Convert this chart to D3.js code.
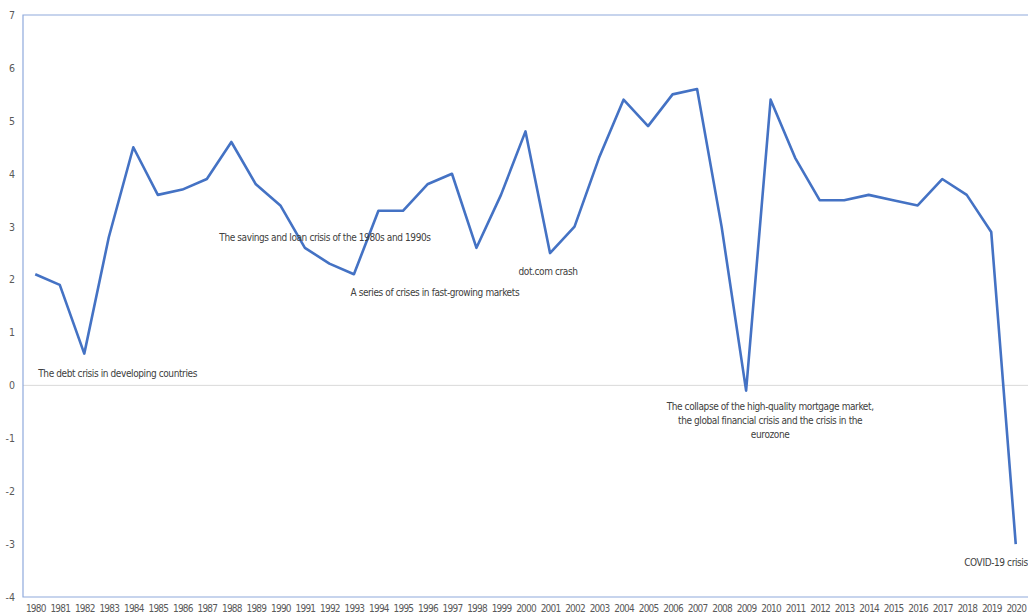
<!DOCTYPE html>
<html>
<head>
<meta charset="utf-8">
<script src="https://cdn.jsdelivr.net/npm/d3@7"></script>
<style>
  body { margin: 0; background: #fff; }
  text { font-family: "DejaVu Sans Condensed", "Liberation Sans", sans-serif; }
</style>
</head>
<body>
<script>
// years on the category axis
const years = d3.range(1980, 2021).map(String);

// growth values
const growth = [2.1, 1.9, 0.6, 2.8, 4.5, 3.6, 3.7, 3.9, 4.6, 3.8,
                3.4, 2.6, 2.3, 2.1, 3.3, 3.3, 3.8, 4.0, 2.6, 3.6,
                4.8, 2.5, 3.0, 4.3, 5.4, 4.9, 5.5, 5.6, 3.0, -0.1,
                5.4, 4.3, 3.5, 3.5, 3.6, 3.5, 3.4, 3.9, 3.6, 2.9,
                -3.0];

const yTicks = [-4, -3, -2, -1, 0, 1, 2, 3, 4, 5, 6, 7];

// crisis notes: year they sit near, value level, text lines
const notes = [
    { year: "1980", value: 0.16, anchor: "start", dx: 3, lines: ["The debt crisis in developing countries"] },
    { year: "1988", value: 2.72, anchor: "start", dx: -12, lines: ["The savings and loan crisis of the 1980s and 1990s"] },
    { year: "1994", value: 1.69, anchor: "start", dx: -28, lines: ["A series of crises in fast-growing markets"] },
    { year: "2001", value: 2.09, anchor: "middle", dx: -2, lines: ["dot.com crash"] },
    { year: "2009", value: -0.47, anchor: "middle", dx: 24, lines: ["The collapse of the high-quality mortgage market,", "the global financial crisis and the crisis in the", "eurozone"] },
    { year: "2020", value: -3.41, anchor: "end", dx: 12, lines: ["COVID-19 crisis"] }
];

const width = 1028, height = 613;
const plot = { left: 23, right: 1028, top: 15, bottom: 597 };

const svg = d3.select("body").append("svg")
    .attr("width", width)
    .attr("height", height);

const x = d3.scalePoint()
    .domain(years)
    .range([plot.left, plot.right])
    .padding(0.5);

const y = d3.scaleLinear()
    .domain([-4, 7])
    .range([plot.bottom, plot.top]);

// zero gridline
svg.append("line")
    .attr("x1", plot.left).attr("x2", plot.right)
    .attr("y1", y(0)).attr("y2", y(0))
    .attr("stroke", "#d9d9d9");

// frame lines (top, left, bottom)
svg.append("path")
    .attr("d", `M${plot.right},${plot.top}H${plot.left}V${plot.bottom}H${plot.right}`)
    .attr("fill", "none")
    .attr("stroke", "#8faadc")
    .attr("stroke-width", 1.2);

// y labels (plain hyphen for negatives, like the original)
const yAxis = d3.axisLeft(y).tickValues(yTicks).tickFormat(d => String(d)).tickSize(0).tickPadding(8);
svg.append("g")
    .attr("transform", `translate(${plot.left},0)`)
    .call(yAxis)
    .call(g => g.select(".domain").remove())
    .call(g => g.selectAll("text").attr("fill", "#595959").style("font-size", "10.5px"));

// x labels
const xAxis = d3.axisBottom(x).tickSize(0).tickPadding(8);
svg.append("g")
    .attr("transform", `translate(0,${plot.bottom})`)
    .call(xAxis)
    .call(g => g.select(".domain").remove())
    .call(g => g.selectAll("text")
        .attr("fill", "#595959")
        .style("font-size", "10px")
        .style("letter-spacing", "-0.8px"));

// the line
const line = d3.line()
    .x((d, i) => x(years[i]))
    .y(d => y(d));

svg.append("path")
    .datum(growth)
    .attr("d", line)
    .attr("fill", "none")
    .attr("stroke", "#4472c4")
    .attr("stroke-width", 2.6)
    .attr("stroke-linejoin", "round");

// annotations
notes.forEach(n => {
    const t = svg.append("text")
        .attr("x", x(n.year) + n.dx)
        .attr("y", y(n.value))
        .attr("text-anchor", n.anchor)
        .attr("fill", "#404040")
        .style("font-size", "10px")
        .style("letter-spacing", "-0.4px");
    n.lines.forEach((l, i) => {
        t.append("tspan")
            .attr("x", x(n.year) + n.dx)
            .attr("dy", i === 0 ? 0 : 14)
            .text(l);
    });
});
</script>
</body>
</html>
